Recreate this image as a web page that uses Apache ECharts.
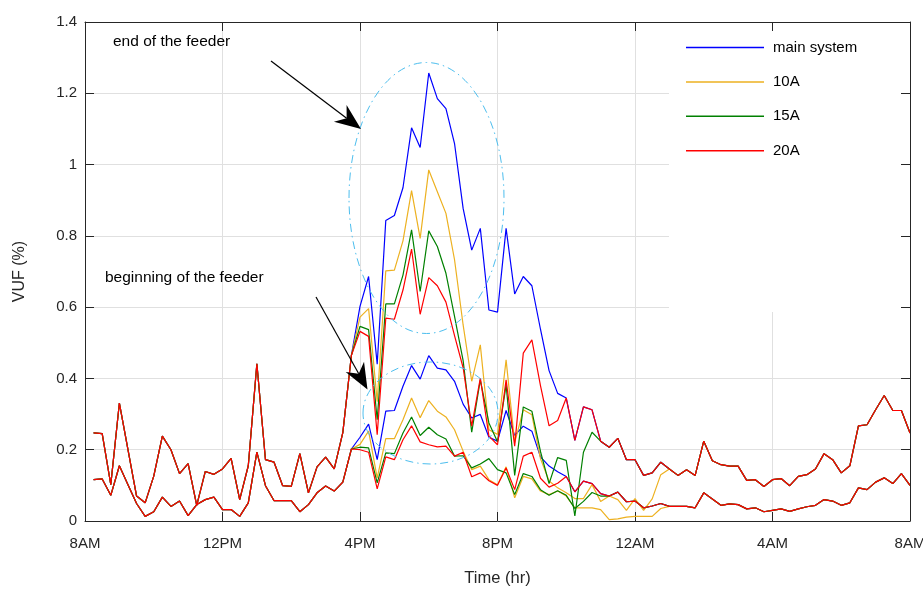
<!DOCTYPE html>
<html>
<head>
<meta charset="utf-8">
<script src="https://cdn.jsdelivr.net/npm/echarts@6/dist/echarts.min.js"></script>
<style>
  html, body { margin: 0; padding: 0; background: #fff; overflow: hidden; }
  #main { width: 923px; height: 590px; }
</style>
</head>
<body>
<div id="main"></div>
<script>
// Voltage unbalance factor over one day, sampled every 15 minutes (8:15 AM .. 8:00 AM next day).
const firstSampleHour = 8.25;
const sampleStepHour = 0.25;

const xTickLabels = ['8AM', '12PM', '4PM', '8PM', '12AM', '4AM', '8AM'];
const seriesNames = ['main system', '10A', '15A', '20A'];
const seriesColors = ['#0000ff', '#edb120', '#008000', '#ff0000'];

// End of the feeder, 20A (identical to every other case outside the evening window)
const endFeeder20A = [
  0.247, 0.245, 0.102, 0.331, 0.200, 0.070, 0.051, 0.126, 0.238, 0.200,
  0.133, 0.161, 0.044, 0.139, 0.131, 0.146, 0.176, 0.060, 0.155, 0.441,
  0.172, 0.165, 0.099, 0.097, 0.189, 0.079, 0.152, 0.179, 0.146, 0.248,
  0.465, 0.532, 0.518, 0.242, 0.569, 0.566, 0.648, 0.763, 0.580, 0.683,
  0.660, 0.614, 0.520, 0.430, 0.266, 0.401, 0.238, 0.214, 0.396, 0.210,
  0.471, 0.508, 0.380, 0.267, 0.282, 0.345, 0.226, 0.320, 0.312, 0.224,
  0.207, 0.232, 0.172, 0.172, 0.128, 0.135, 0.165, 0.146, 0.128, 0.144,
  0.128, 0.224, 0.169, 0.158, 0.154, 0.154, 0.114, 0.116, 0.097, 0.116,
  0.119, 0.099, 0.125, 0.130, 0.146, 0.189, 0.172, 0.135, 0.155, 0.267,
  0.270, 0.312, 0.352, 0.310, 0.310, 0.247
];
// End of the feeder, evening values from 4PM on where the cases differ
const endFeederMainFrom4PM = [
  0.602, 0.686, 0.440, 0.843, 0.857, 0.935, 1.103, 1.048, 1.257, 1.185,
  1.157, 1.059, 0.877, 0.760, 0.821, 0.592, 0.586, 0.821, 0.637, 0.686,
  0.660, 0.538, 0.422, 0.358
];
const endFeeder10AFrom4PM = [
  0.572, 0.596, 0.335, 0.702, 0.704, 0.786, 0.927, 0.793, 0.985, 0.924,
  0.863, 0.733, 0.550, 0.392, 0.494, 0.256, 0.243, 0.452, 0.220, 0.312,
  0.298, 0.175, 0.112, 0.093, 0.079, 0.063, 0.063, 0.102, 0.055, 0.070,
  0.060, 0.030, 0.063, 0.030, 0.062, 0.130
];
const endFeeder15AFrom4PM = [
  0.546, 0.537, 0.284, 0.609, 0.609, 0.690, 0.817, 0.644, 0.814, 0.770,
  0.695, 0.574, 0.450, 0.249, 0.396, 0.275, 0.222, 0.382, 0.128, 0.320,
  0.308, 0.195, 0.105, 0.178, 0.170, 0.014, 0.193, 0.249
];

// Beginning of the feeder, 20A
const beginFeeder20A = [
  0.116, 0.118, 0.072, 0.155, 0.102, 0.049, 0.013, 0.026, 0.067, 0.041,
  0.056, 0.015, 0.046, 0.060, 0.067, 0.032, 0.032, 0.013, 0.051, 0.193,
  0.099, 0.057, 0.057, 0.057, 0.026, 0.046, 0.079, 0.098, 0.084, 0.109,
  0.202, 0.200, 0.193, 0.090, 0.180, 0.172, 0.228, 0.267, 0.222, 0.214,
  0.208, 0.210, 0.182, 0.193, 0.124, 0.135, 0.113, 0.100, 0.149, 0.088,
  0.182, 0.193, 0.120, 0.095, 0.106, 0.125, 0.082, 0.112, 0.105, 0.077,
  0.070, 0.081, 0.054, 0.056, 0.037, 0.042, 0.049, 0.041, 0.041, 0.041,
  0.037, 0.079, 0.062, 0.044, 0.048, 0.046, 0.034, 0.037, 0.026, 0.030,
  0.034, 0.027, 0.034, 0.040, 0.044, 0.060, 0.056, 0.044, 0.051, 0.093,
  0.088, 0.109, 0.121, 0.105, 0.133, 0.100
];
const beginFeederMainFrom4PM = [
  0.235, 0.272, 0.172, 0.308, 0.310, 0.378, 0.436, 0.398, 0.464, 0.429,
  0.424, 0.392, 0.328, 0.289, 0.299, 0.235, 0.224, 0.310, 0.240, 0.266,
  0.252, 0.180, 0.154, 0.138
];
const beginFeeder10AFrom4PM = [
  0.215, 0.252, 0.121, 0.231, 0.231, 0.284, 0.345, 0.290, 0.338, 0.308,
  0.292, 0.256, 0.196, 0.144, 0.154, 0.116, 0.102, 0.152, 0.065, 0.125,
  0.118, 0.084, 0.074, 0.084, 0.070, 0.037, 0.037, 0.037, 0.032, 0.004,
  0.006, 0.011, 0.013, 0.013, 0.013, 0.035
];
const beginFeeder15AFrom4PM = [
  0.207, 0.205, 0.107, 0.191, 0.189, 0.247, 0.292, 0.240, 0.263, 0.242,
  0.230, 0.182, 0.183, 0.149, 0.160, 0.175, 0.144, 0.135, 0.074, 0.133,
  0.125, 0.088, 0.072, 0.085, 0.072, 0.035, 0.055, 0.080, 0.070
];

const hours = endFeeder20A.map((_, k) => firstSampleHour + k * sampleStepHour);
const index4PM = hours.indexOf(16);

// A case follows the 20A profile except over its own evening window.
function withEvening(base, evening) {
  return base.map((v, k) => {
    const j = k - index4PM;
    return j >= 0 && j < evening.length ? evening[j] : v;
  });
}

const endProfiles = [
  withEvening(endFeeder20A, endFeederMainFrom4PM),
  withEvening(endFeeder20A, endFeeder10AFrom4PM),
  withEvening(endFeeder20A, endFeeder15AFrom4PM),
  endFeeder20A
];
const beginProfiles = [
  withEvening(beginFeeder20A, beginFeederMainFrom4PM),
  withEvening(beginFeeder20A, beginFeeder10AFrom4PM),
  withEvening(beginFeeder20A, beginFeeder15AFrom4PM),
  beginFeeder20A
];

const FONT = '"Liberation Sans", Arial, Helvetica, sans-serif';
const AXIS_COLOR = '#262626';
const GRID_COLOR = '#e0e0e0';

const series = [];
seriesNames.forEach((name, c) => {
  [endProfiles[c], beginProfiles[c]].forEach(profile => {
    series.push({
      name: name,
      type: 'line',
      data: hours.map((h, k) => [h, profile[k]]),
      symbol: 'none',
      showSymbol: false,
      lineStyle: { color: seriesColors[c], width: 1.2 },
      itemStyle: { color: seriesColors[c] },
      emphasis: { disabled: true },
      z: 2
    });
  });
});

// Arrow annotation: straight shaft with a notched head
function arrow(x0, y0, x1, y1) {
  const len = Math.hypot(x1 - x0, y1 - y0);
  const dx = (x1 - x0) / len, dy = (y1 - y0) / len;
  const px = -dy, py = dx;
  const headLen = 26, notch = 18, half = 10.5;
  const bx = x1 - headLen * dx, by = y1 - headLen * dy;
  const nx = x1 - notch * dx, ny = y1 - notch * dy;
  return [
    { type: 'line', z: 6, shape: { x1: x0, y1: y0, x2: nx, y2: ny },
      style: { stroke: '#000', lineWidth: 1.2 } },
    { type: 'polygon', z: 6,
      shape: { points: [[x1, y1], [bx + half * px, by + half * py], [nx, ny], [bx - half * px, by - half * py]] },
      style: { fill: '#000' } }
  ];
}

const ellipseStyle = { stroke: '#4dbeee', fill: 'none', lineWidth: 1, lineDash: [8, 4, 1.5, 4] };

const graphic = [
  // legend panel
  { type: 'rect', z: 1, shape: { x: 669, y: 23, width: 240, height: 289 }, style: { fill: '#fff' } },
  { type: 'ellipse', z: 5, shape: { cx: 426.5, cy: 198, rx: 77.5, ry: 135.5 }, style: ellipseStyle },
  { type: 'ellipse', z: 5, shape: { cx: 430.5, cy: 413, rx: 67.5, ry: 51 }, style: ellipseStyle },
  { type: 'text', z: 6, style: { text: 'end of the feeder', x: 113, y: 42, fill: '#000',
      font: '15.5px ' + FONT, verticalAlign: 'middle' } },
  { type: 'text', z: 6, style: { text: 'beginning of the feeder', x: 105, y: 278, fill: '#000',
      font: '15.5px ' + FONT, verticalAlign: 'middle' } },
  ...arrow(271, 61, 361, 129),
  ...arrow(316, 297, 367.5, 389.5)
];

const axisLineStyle = { color: AXIS_COLOR, width: 1 };

const option = {
  animation: false,
  backgroundColor: '#fff',
  grid: { left: 85, right: 13, top: 22, bottom: 69, containLabel: false, outerBoundsMode: 'none' },
  legend: {
    data: seriesNames,
    orient: 'vertical',
    left: 686,
    top: 37,
    padding: 0,
    icon: 'rect',
    itemWidth: 78,
    itemHeight: 1.5,
    itemGap: 13.4,
    selectedMode: false,
    textStyle: { fontFamily: FONT, fontSize: 15, color: '#000', lineHeight: 14, padding: [0, 0, 7, 4] }
  },
  xAxis: [
    {
      type: 'value', min: 8, max: 32, interval: 4, position: 'bottom',
      axisLine: { show: true, onZero: false, lineStyle: axisLineStyle },
      axisTick: { show: true, inside: true, length: 9, lineStyle: axisLineStyle },
      axisLabel: {
        color: AXIS_COLOR, fontFamily: FONT, fontSize: 15, margin: 15,
        formatter: v => xTickLabels[Math.round((v - 8) / 4)]
      },
      splitLine: { show: true, lineStyle: { color: GRID_COLOR, width: 1 } },
      name: 'Time (hr)', nameLocation: 'middle', nameGap: 49,
      nameTextStyle: { color: AXIS_COLOR, fontFamily: FONT, fontSize: 16.5 }
    },
    {
      type: 'value', min: 8, max: 32, interval: 4, position: 'top', z: 3,
      axisLine: { show: true, onZero: false, lineStyle: axisLineStyle },
      axisTick: { show: true, inside: true, length: 9, lineStyle: axisLineStyle },
      axisLabel: { show: false },
      splitLine: { show: false }
    }
  ],
  yAxis: [
    {
      type: 'value', min: 0, max: 1.4, interval: 0.2, position: 'left',
      axisLine: { show: true, onZero: false, lineStyle: axisLineStyle },
      axisTick: { show: true, inside: true, length: 9, lineStyle: axisLineStyle },
      axisLabel: {
        color: AXIS_COLOR, fontFamily: FONT, fontSize: 15, margin: 8,
        formatter: v => String(+v.toFixed(1))
      },
      splitLine: { show: true, lineStyle: { color: GRID_COLOR, width: 1 } },
      name: 'VUF (%)', nameLocation: 'middle', nameGap: 57, nameRotate: 90,
      nameTextStyle: { color: AXIS_COLOR, fontFamily: FONT, fontSize: 16 }
    },
    {
      type: 'value', min: 0, max: 1.4, interval: 0.2, position: 'right', z: 3,
      axisLine: { show: true, onZero: false, lineStyle: axisLineStyle },
      axisTick: { show: true, inside: true, length: 9, lineStyle: axisLineStyle },
      axisLabel: { show: false },
      splitLine: { show: false }
    }
  ],
  series: series,
  graphic: graphic
};

const chart = echarts.init(document.getElementById('main'), null, { width: 923, height: 590 });
chart.setOption(option);
</script>
</body>
</html>
